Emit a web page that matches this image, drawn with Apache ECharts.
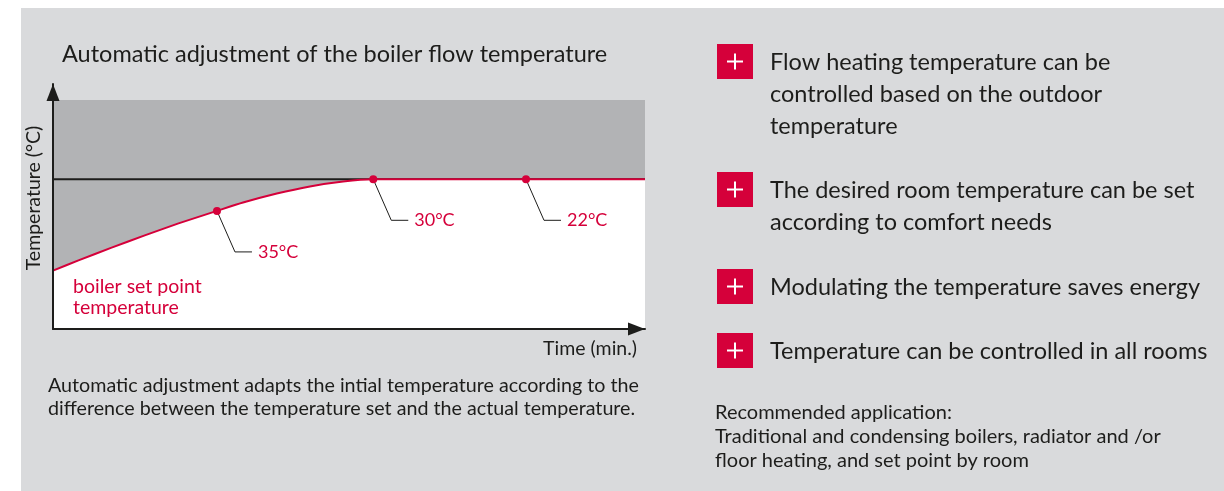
<!DOCTYPE html>
<html>
<head>
<meta charset="utf-8">
<title>Automatic adjustment of the boiler flow temperature</title>
<script src="https://cdn.jsdelivr.net/npm/echarts@6/dist/echarts.min.js"></script>
<style>
html, body { margin: 0; padding: 0; background: #fff; }
#chart { width: 1224px; height: 491px; }
</style>
</head>
<body>
<div id="chart"></div>
<script>
// boiler set point curve (time and temperature in % of the axis)
const curveX = [0, 4.3, 9.9, 15.5, 21.2, 27.7, 32.1, 37.8, 43.4, 49.0, 54.1, 79.9, 100]
const curveY = [23.8, 28.0, 33.2, 38.2, 43.1, 48.2, 51.6, 55.3, 58.2, 60.2, 61.1, 61.1, 61.1]
// room set point (black line) and top of the grey band
const setPoint = 61.1
const bandTop = 93.5
// marked points on the curve
const markX = [27.7, 54.1, 79.9]
const markY = [48.2, 61.1, 61.1]
const markLabels = ['35°C', '30°C', '22°C']
// list on the right
const pros = [
  'Flow heating temperature can be\ncontrolled based on the outdoor\ntemperature',
  'The desired room temperature can be set\naccording to comfort needs',
  'Modulating the temperature saves energy',
  'Temperature can be controlled in all rooms'
]

const red = '#d5003a'
const ink = '#1d1d1b'
const font = 'Lato'

const mychart = echarts.init(document.getElementById('chart'))

// red boxes with a plus and the text next to them
const proTops = [62, 190, 287, 351]
const proGraphics = []
pros.forEach((text, i) => {
  const cy = proTops[i]
  proGraphics.push(
    { type: 'rect', shape: { x: 717, y: cy - 18, width: 36, height: 35 }, style: { fill: red } },
    { type: 'rect', shape: { x: 727, y: cy - 1.5, width: 16, height: 2 }, style: { fill: '#fff' } },
    { type: 'rect', shape: { x: 734, y: cy - 8.5, width: 2, height: 16 }, style: { fill: '#fff' } },
    {
      type: 'text',
      x: 770,
      y: cy - 16,
      style: { text: text, fill: ink, fontSize: 23.5, fontFamily: font, lineHeight: 32, verticalAlign: 'top' }
    }
  )
})

// both axes: plain black line ending in a filled arrow
const axisLine = {
  show: true,
  onZero: false,
  symbol: ['none', 'triangle'],
  symbolSize: [13, 17],
  symbolOffset: [0, -8.5],
  lineStyle: { color: ink, width: 2 }
}

const option = {
  animation: false,
  grid: {
    left: 53,
    right: 579,
    top: 84,
    bottom: 162,
    outerBoundsMode: 'none'
  },
  xAxis: {
    type: 'value',
    z: 10,
    min: 0,
    max: 100,
    axisLine: axisLine,
    axisTick: { show: false },
    axisLabel: { show: false },
    splitLine: { show: false }
  },
  yAxis: {
    type: 'value',
    z: 10,
    min: 0,
    max: 100,
    axisLine: axisLine,
    axisTick: { show: false },
    axisLabel: { show: false },
    splitLine: { show: false }
  },
  graphic: [
    { type: 'rect', z: -10, shape: { x: 21, y: 8, width: 1203, height: 483 }, style: { fill: '#d9dadc' } },
    {
      type: 'text', x: 62, y: 54,
      style: { text: 'Automatic adjustment of the boiler flow temperature', fill: ink, fontSize: 23.5, fontFamily: font, verticalAlign: 'middle' }
    },
    {
      type: 'text', x: 34, y: 198, rotation: Math.PI / 2,
      style: { text: 'Temperature (°C)', fill: ink, fontSize: 19.5, fontFamily: font, align: 'center', verticalAlign: 'middle' }
    },
    {
      type: 'text', x: 637, y: 349,
      style: { text: 'Time (min.)', fill: ink, fontSize: 19.5, fontFamily: font, align: 'right', verticalAlign: 'middle' }
    },
    {
      type: 'text', x: 73, y: 276, z: 10,
      style: { text: 'boiler set point\ntemperature', fill: red, fontSize: 19.5, fontFamily: font, lineHeight: 21, verticalAlign: 'top' }
    },
    {
      type: 'text', x: 48, y: 374.5,
      style: {
        text: 'Automatic adjustment adapts the intial temperature according to the\ndifference between the temperature set and the actual temperature.',
        fill: ink, fontSize: 19.7, fontFamily: font, lineHeight: 23, verticalAlign: 'top'
      }
    },
    {
      type: 'text', x: 715, y: 401,
      style: {
        text: 'Recommended application:\nTraditional and condensing boilers, radiator and /or\nfloor heating, and set point by room',
        fill: ink, fontSize: 20, fontFamily: font, lineHeight: 24, verticalAlign: 'top'
      }
    }
  ].concat(proGraphics),
  series: [
    {
      // grey band above the curve
      type: 'line',
      z: 1,
      symbol: 'none',
      data: [[0, bandTop], [100, bandTop]],
      lineStyle: { width: 0 },
      areaStyle: { color: '#b2b3b5', opacity: 1, origin: 'start' },
      silent: true
    },
    {
      // room set point
      type: 'line',
      z: 2,
      symbol: 'none',
      data: [[0, setPoint], [100, setPoint]],
      lineStyle: { color: ink, width: 2 },
      silent: true
    },
    {
      // boiler set point temperature
      type: 'line',
      z: 3,
      symbol: 'none',
      smooth: 0.2,
      data: curveX.map((x, i) => [x, curveY[i]]),
      lineStyle: { color: red, width: 2 },
      areaStyle: { color: '#ffffff', opacity: 1, origin: 'start' },
      silent: true
    },
    {
      // marked points with leader lines
      type: 'custom',
      z: 4,
      data: markX.map((x, i) => [x, markY[i]]),
      renderItem (params, api) {
        const p = api.coord([api.value(0), api.value(1)])
        return {
          type: 'group',
          children: [
            {
              type: 'polyline',
              shape: { points: [p, [p[0] + 18, p[1] + 41], [p[0] + 35, p[1] + 41]] },
              style: { stroke: ink, lineWidth: 1, fill: null }
            },
            { type: 'circle', shape: { cx: p[0], cy: p[1], r: 4 }, style: { fill: red } },
            {
              type: 'text',
              x: p[0] + 41,
              y: p[1] + 41,
              style: { text: markLabels[params.dataIndex], fill: red, fontSize: 18, fontFamily: font, verticalAlign: 'middle' }
            }
          ]
        }
      }
    }
  ]
}
mychart.setOption(option)
</script>
</body>
</html>
